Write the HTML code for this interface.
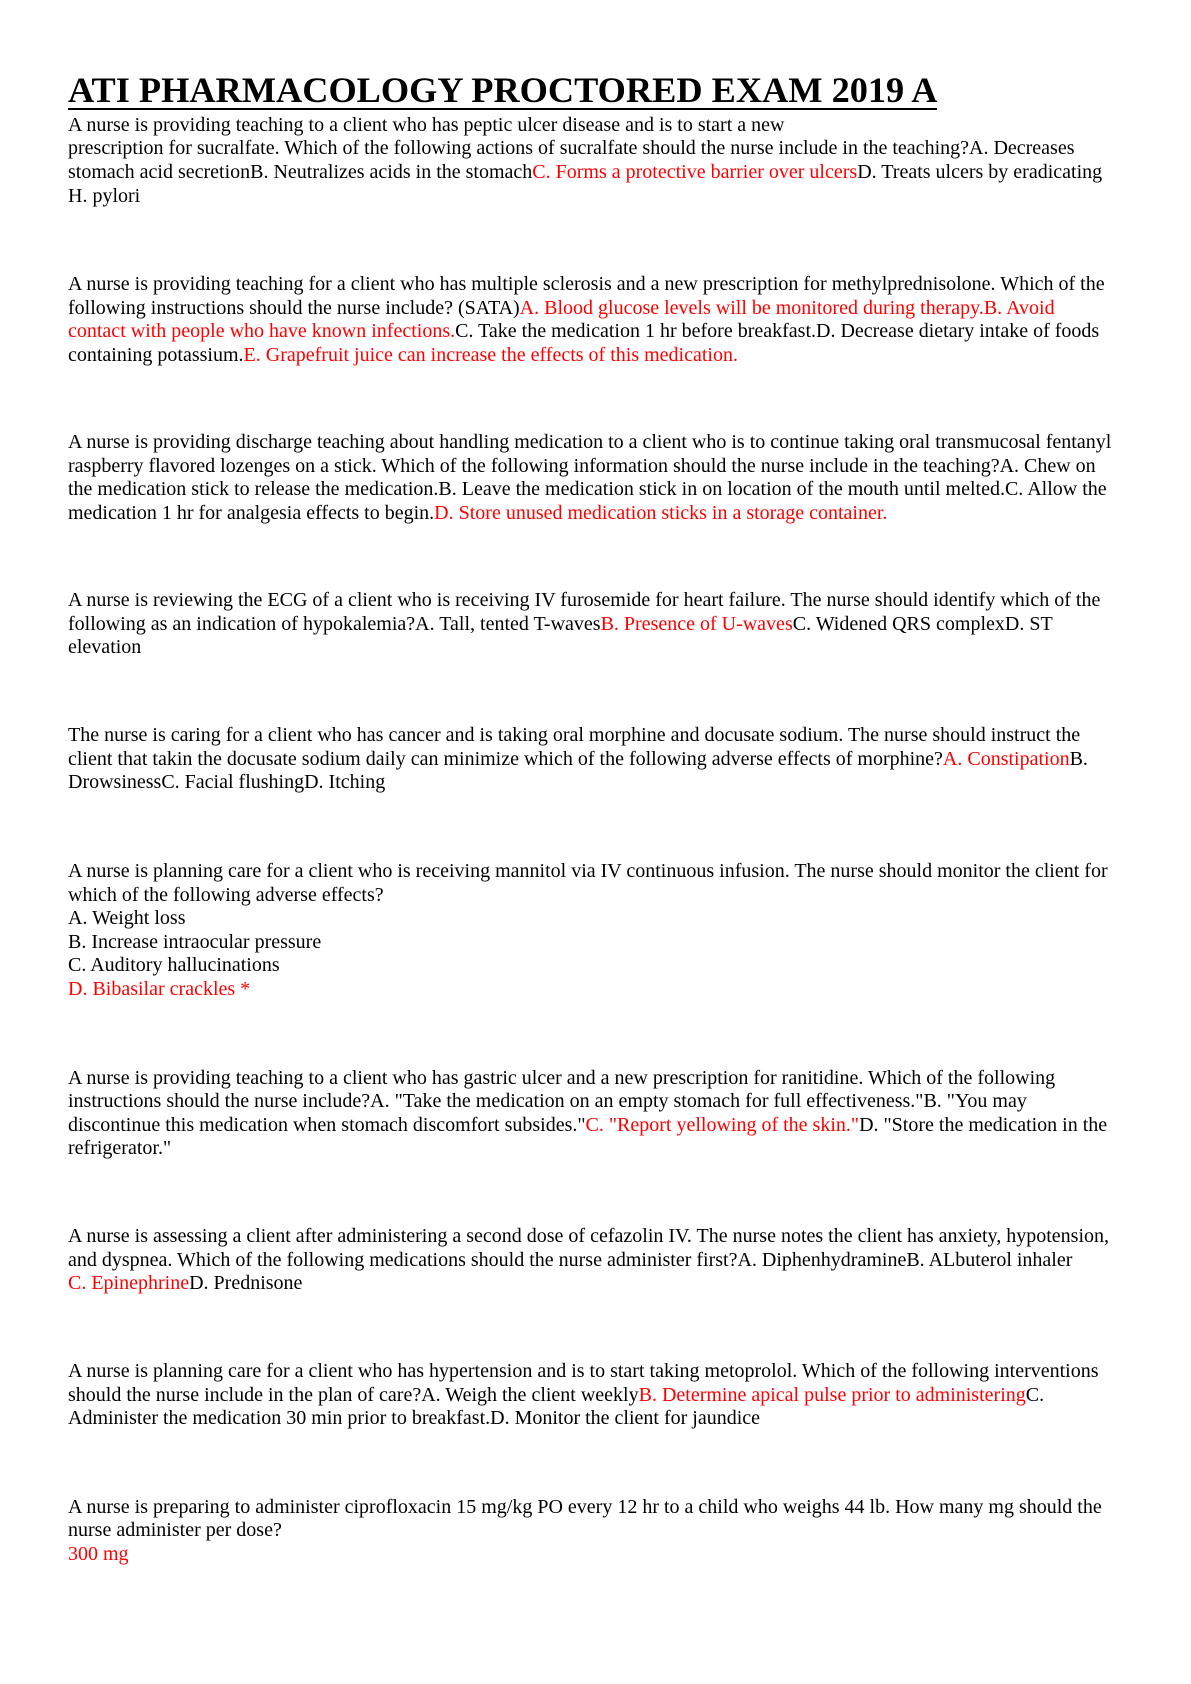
<!DOCTYPE html>
<html><head><meta charset="utf-8">
<style>
html,body{margin:0;padding:0;background:#fff;}
body{width:1191px;height:1684px;position:relative;overflow:hidden;font-family:"Liberation Serif","Times New Roman",serif;color:#000;}
.t{position:absolute;left:68px;top:69px;font-size:36.3px;font-weight:bold;line-height:42px;white-space:nowrap;}
.u{position:absolute;left:68px;top:108px;width:869px;height:2px;background:#000;}
.p{position:absolute;left:68px;font-size:20px;line-height:23.6px;white-space:nowrap;}
.r{color:#ff0000;}
</style></head><body>
<div class="t">ATI PHARMACOLOGY PROCTORED EXAM 2019 A</div>
<div class="u"></div>
<div class="p" style="top:113.8px">A nurse is providing teaching to a client who has peptic ulcer disease and is to start a new<br>prescription for sucralfate. Which of the following actions of sucralfate should the nurse include in the teaching?A. Decreases<br>stomach acid secretionB. Neutralizes acids in the stomach<span class="r">C. Forms a protective barrier over ulcers</span>D. Treats ulcers by eradicating<br>H. pylori</div>
<div class="p" style="top:273px">A nurse is providing teaching for a client who has multiple sclerosis and a new prescription for methylprednisolone. Which of the<br>following instructions should the nurse include? (SATA)<span class="r">A. Blood glucose levels will be monitored during therapy.B. Avoid</span><br><span class="r">contact with people who have known infections.</span>C. Take the medication 1 hr before breakfast.D. Decrease dietary intake of foods<br>containing potassium.<span class="r">E. Grapefruit juice can increase the effects of this medication.</span></div>
<div class="p" style="top:431.3px">A nurse is providing discharge teaching about handling medication to a client who is to continue taking oral transmucosal fentanyl<br>raspberry flavored lozenges on a stick. Which of the following information should the nurse include in the teaching?A. Chew on<br>the medication stick to release the medication.B. Leave the medication stick in on location of the mouth until melted.C. Allow the<br>medication 1 hr for analgesia effects to begin.<span class="r">D. Store unused medication sticks in a storage container.</span></div>
<div class="p" style="top:589.2px">A nurse is reviewing the ECG of a client who is receiving IV furosemide for heart failure. The nurse should identify which of the<br>following as an indication of hypokalemia?A. Tall, tented T-waves<span class="r">B. Presence of U-waves</span>C. Widened QRS complexD. ST<br>elevation</div>
<div class="p" style="top:724.1px">The nurse is caring for a client who has cancer and is taking oral morphine and docusate sodium. The nurse should instruct the<br>client that takin the docusate sodium daily can minimize which of the following adverse effects of morphine?<span class="r">A. Constipation</span>B.<br>DrowsinessC. Facial flushingD. Itching</div>
<div class="p" style="top:860.1px">A nurse is planning care for a client who is receiving mannitol via IV continuous infusion. The nurse should monitor the client for<br>which of the following adverse effects?<br>A. Weight loss<br>B. Increase intraocular pressure<br>C. Auditory hallucinations<br><span class="r">D. Bibasilar crackles *</span></div>
<div class="p" style="top:1066.6px">A nurse is providing teaching to a client who has gastric ulcer and a new prescription for ranitidine. Which of the following<br>instructions should the nurse include?A. "Take the medication on an empty stomach for full effectiveness."B. "You may<br>discontinue this medication when stomach discomfort subsides."<span class="r">C. "Report yellowing of the skin."</span>D. "Store the medication in the<br>refrigerator."</div>
<div class="p" style="top:1225.2px">A nurse is assessing a client after administering a second dose of cefazolin IV. The nurse notes the client has anxiety, hypotension,<br>and dyspnea. Which of the following medications should the nurse administer first?A. DiphenhydramineB. ALbuterol inhaler<br><span class="r">C. Epinephrine</span>D. Prednisone</div>
<div class="p" style="top:1360.2px">A nurse is planning care for a client who has hypertension and is to start taking metoprolol. Which of the following interventions<br>should the nurse include in the plan of care?A. Weigh the client weekly<span class="r">B. Determine apical pulse prior to administering</span>C.<br>Administer the medication 30 min prior to breakfast.D. Monitor the client for jaundice</div>
<div class="p" style="top:1495.7px">A nurse is preparing to administer ciprofloxacin 15 mg/kg PO every 12 hr to a child who weighs 44 lb. How many mg should the<br>nurse administer per dose?<br><span class="r">300 mg</span></div>
</body></html>
